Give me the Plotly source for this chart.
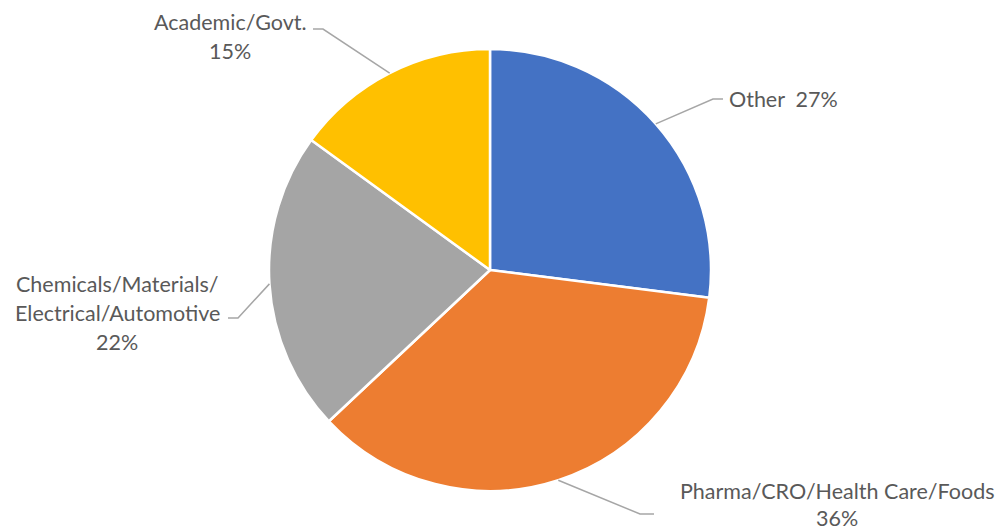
import math
import plotly.graph_objects as go

# Market segments and their shares (%)
segments = ["Other", "Pharma/CRO/Health Care/Foods",
            "Chemicals/Materials/Electrical/Automotive", "Academic/Govt."]
shares = [27, 36, 22, 15]
colors = ["#4472C4", "#ED7D31", "#A5A5A5", "#FFC000"]

# Label text lines per segment ({p} -> percent)
label_lines = [
    ["Other  {p}%"],
    ["Pharma/CRO/Health Care/Foods", "{p}%"],
    ["Chemicals/Materials/", "Electrical/Automotive", "{p}%"],
    ["Academic/Govt.", "{p}%"],
]

W, H = 998, 531
CX, CY, R = 490, 270, 221          # pie centre and radius in pixels

# Leader-line elbow / end points and label anchors (pixels)
elbows = [(713, 99), (640, 514), (238, 318), (323, 29)]
ends = [(723, 99), (654, 514), (228, 318), (313, 29)]
anchors = [(727, 99, "left"), (837, 491, "center"), (117, 284, "center"), (230, 22, "center")]
line_gaps = [29, 27, 29, 29]

TEXT = "#595959"
FONT = "Lato"
FONT_SIZE = 21.5


def px(x, y):
    return x / W, 1 - y / H


fig = go.Figure(go.Pie(
    labels=segments, values=shares, sort=False, direction="clockwise",
    rotation=0, marker=dict(colors=colors, line=dict(color="white", width=2.5)),
    textinfo="none", hoverinfo="label+percent", showlegend=False,
    domain=dict(x=[(CX - R) / W, (CX + R) / W], y=[1 - (CY + R) / H, 1 - (CY - R) / H]),
))

shapes, annotations = [], []
total = sum(shares)
cum = 0
for i, v in enumerate(shares):
    mid = (cum + v / 2) / total * 2 * math.pi
    cum += v
    sx, sy = CX + R * math.sin(mid), CY - R * math.cos(mid)
    pts = [(sx, sy), elbows[i], ends[i]]
    path = "M " + " L ".join(f"{px(x, y)[0]},{px(x, y)[1]}" for x, y in pts)
    shapes.append(dict(type="path", path=path, xref="paper", yref="paper",
                       line=dict(color="#A6A6A6", width=1.5)))
    ax, ay, align = anchors[i]
    for k, line in enumerate(label_lines[i]):
        xx, yy = px(ax, ay + k * line_gaps[i])
        annotations.append(dict(
            text=line.format(p=v), x=xx, y=yy, xref="paper", yref="paper",
            xanchor=align, yanchor="middle", showarrow=False,
            font=dict(family=FONT, size=FONT_SIZE, color=TEXT)))

fig.update_layout(
    width=W, height=H, margin=dict(l=0, r=0, t=0, b=0),
    paper_bgcolor="white", plot_bgcolor="white",
    shapes=shapes, annotations=annotations,
)

fig.write_html("out.html")
